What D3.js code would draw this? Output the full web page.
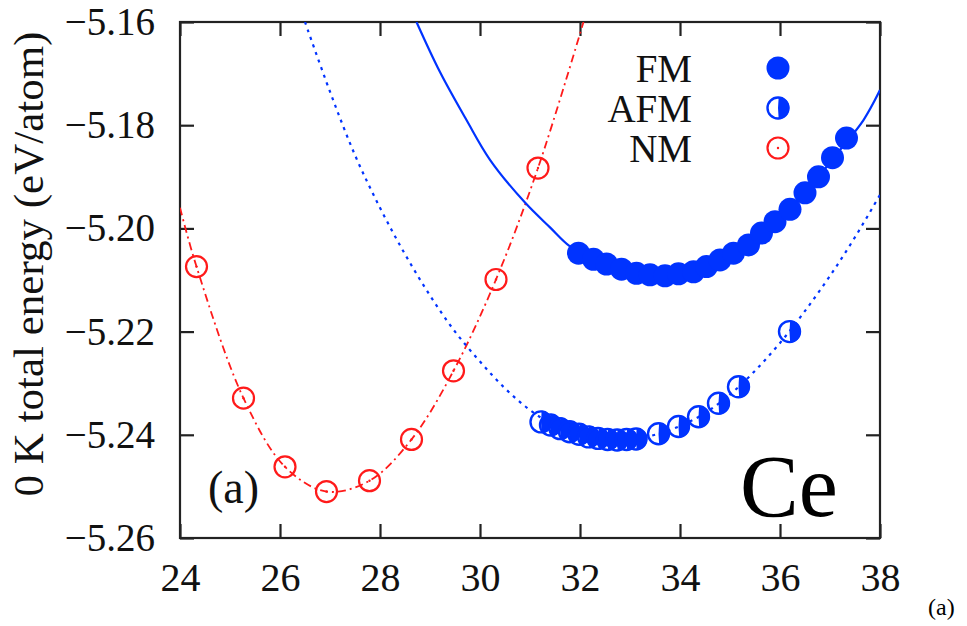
<!DOCTYPE html>
<html><head><meta charset="utf-8">
<script src="https://cdn.jsdelivr.net/npm/d3@7"></script>
<style>
body{margin:0;background:#fff}
text{font-family:"Liberation Serif",serif;}
</style>
</head><body>
<svg id="c" width="967" height="626"></svg>
<script>
// ---- data ----
const xTicks = [24, 26, 28, 30, 32, 34, 36, 38];
const yTicks = [-5.26, -5.24, -5.22, -5.20, -5.18, -5.16];
const seriesNames = ["FM", "AFM", "NM"];

const fmX = [31.97,32.27,32.53,32.83,33.13,33.40,33.70,33.97,34.27,34.53,34.80,35.07,35.37,35.63,35.90,36.20,36.50,36.77,37.05,37.33];
const fmE = [-5.2048,-5.2060,-5.2069,-5.2079,-5.2087,-5.2090,-5.2092,-5.2088,-5.2084,-5.2074,-5.2061,-5.2048,-5.2032,-5.2009,-5.1987,-5.1963,-5.1931,-5.1900,-5.1863,-5.1825];

const afmX = [31.22,31.41,31.60,31.79,31.98,32.17,32.36,32.55,32.74,32.93,33.12,33.57,33.97,34.37,34.77,35.17,36.19];
const afmE = [-5.2375,-5.2381,-5.2388,-5.2394,-5.2399,-5.2404,-5.2407,-5.2409,-5.2410,-5.2409,-5.2408,-5.2398,-5.2384,-5.2365,-5.2339,-5.2307,-5.2200];

const nmX = [24.33,25.27,26.10,26.93,27.79,28.63,29.47,30.32,31.16];
const nmE = [-5.2074,-5.2329,-5.2462,-5.2510,-5.2489,-5.2409,-5.2276,-5.2099,-5.1883];

// fitted curves
const fmFitX = [28.73,29.2,29.73,30.2,30.9,31.4,31.8,32.3,32.8,33.3,33.7,34.2,34.7,35.2,35.7,36.2,36.7,37.2,37.67,38.0];
const fmFitE = [-5.1600,-5.1697,-5.1790,-5.1867,-5.1950,-5.1998,-5.2035,-5.2062,-5.2080,-5.2090,-5.2092,-5.2085,-5.2067,-5.2040,-5.2004,-5.1960,-5.1908,-5.1848,-5.1790,-5.1732];

const afmFitX = [26.5,27.0,27.5,28.0,28.5,29.0,29.5,30.0,30.5,31.0,31.5,32.0,32.5,33.0,33.5,34.0,34.5,35.0,35.5,36.0,36.5,37.0,37.5,38.0];
const afmFitE = [-5.1600,-5.1735,-5.1858,-5.1960,-5.2050,-5.2130,-5.2200,-5.2258,-5.2310,-5.2352,-5.2383,-5.2402,-5.2411,-5.2410,-5.2400,-5.2383,-5.2358,-5.2322,-5.2276,-5.2222,-5.2160,-5.2092,-5.2017,-5.1935];

const nmFitX = [24.0,24.33,25.27,26.10,26.93,27.79,28.63,29.47,30.32,31.16,32.07];
const nmFitE = [-5.1960,-5.2074,-5.2329,-5.2462,-5.2510,-5.2489,-5.2409,-5.2276,-5.2099,-5.1883,-5.1600];

// ---- drawing ----
const BLUE = "#0033ff", RED = "#ff1a1a";
const SERIF = "Liberation Serif";
const L = 180, R = 880, T = 22, B = 538;
const svg = d3.select("#c");
const x = d3.scaleLinear().domain([24, 38]).range([L, R]);
const y = d3.scaleLinear().domain([-5.26, -5.16]).range([B, T]);
const zip = (a, b) => a.map((v, i) => [v, b[i]]);

svg.append("defs").append("clipPath").attr("id", "clip")
  .append("rect").attr("x", L).attr("y", T).attr("width", R - L).attr("height", B - T);

// axes (inward ticks on all four sides)
const fmt = d3.format(".2f");
const tick = 14;
const gx = svg.append("g").attr("transform", `translate(0,${B})`)
  .call(d3.axisBottom(x).tickValues(xTicks).tickSizeInner(-tick).tickSizeOuter(0).tickPadding(25).tickFormat(d3.format("d")));
svg.append("g").attr("transform", `translate(0,${T})`)
  .call(d3.axisTop(x).tickValues(xTicks).tickSizeInner(-tick).tickSizeOuter(0).tickFormat(""));
const gy = svg.append("g").attr("transform", `translate(${L},0)`)
  .call(d3.axisLeft(y).tickValues(yTicks).tickSizeInner(-tick).tickSizeOuter(0).tickPadding(25).tickFormat(fmt));
svg.append("g").attr("transform", `translate(${R},0)`)
  .call(d3.axisRight(y).tickValues(yTicks).tickSizeInner(-tick).tickSizeOuter(0).tickFormat(""));
svg.selectAll(".domain").remove();
svg.selectAll("g").attr("font-family", SERIF).attr("font-size", null);
svg.selectAll(".tick line").attr("stroke", "#222").attr("stroke-width", 2.2);
gx.selectAll(".tick text").style("font-family", SERIF).style("font-size", "40px").attr("fill", "#111");
gy.selectAll(".tick text").style("font-family", SERIF).style("font-size", "39px").attr("fill", "#111");

svg.append("rect").attr("x", L).attr("y", T).attr("width", R - L).attr("height", B - T)
  .attr("fill", "none").attr("stroke", "#222").attr("stroke-width", 2.2);

// y axis title
svg.append("text").attr("transform", `translate(43,264) rotate(-90)`)
  .attr("text-anchor", "middle").style("font-family", SERIF).style("font-size", "43px").attr("fill", "#111")
  .text("0 K total energy (eV/atom)");

const plot = svg.append("g").attr("clip-path", "url(#clip)");
const line = d3.line().x(d => x(d[0])).y(d => y(d[1])).curve(d3.curveCatmullRom.alpha(0.5));

plot.append("path").attr("d", line(zip(nmFitX, nmFitE))).attr("fill", "none")
  .attr("stroke", RED).attr("stroke-width", 1.8).attr("stroke-dasharray", "8,4,2,4");
plot.append("path").attr("d", line(zip(afmFitX, afmFitE))).attr("fill", "none")
  .attr("stroke", BLUE).attr("stroke-width", 2.2).attr("stroke-dasharray", "3,5");
plot.append("path").attr("d", line(zip(fmFitX, fmFitE))).attr("fill", "none")
  .attr("stroke", BLUE).attr("stroke-width", 2.2);

const r = 11.5;
function nmMark(g) {
  g.append("circle").attr("r", r - 1).attr("fill", "none").attr("stroke", RED).attr("stroke-width", 2.2);
  g.append("circle").attr("r", 1.2).attr("fill", RED);
}
function afmMark(g) {
  g.append("circle").attr("r", r - 1).attr("fill", "none").attr("stroke", BLUE).attr("stroke-width", 2.4);
  g.append("path").attr("d", d3.arc()({innerRadius: 0, outerRadius: r - 0.2, startAngle: 0.06, endAngle: Math.PI - 0.06}))
    .attr("fill", BLUE);
}
function fmMark(g) {
  g.append("circle").attr("r", r).attr("fill", BLUE);
}

plot.selectAll(".nm").data(zip(nmX, nmE)).join("g").attr("class", "nm")
  .attr("transform", d => `translate(${x(d[0])},${y(d[1])})`).each(function () { nmMark(d3.select(this)); });
plot.selectAll(".afm").data(zip(afmX, afmE)).join("g").attr("class", "afm")
  .attr("transform", d => `translate(${x(d[0])},${y(d[1])})`).each(function () { afmMark(d3.select(this)); });
plot.selectAll(".fm").data(zip(fmX, fmE)).join("g").attr("class", "fm")
  .attr("transform", d => `translate(${x(d[0])},${y(d[1])})`).each(function () { fmMark(d3.select(this)); });

// legend
const marks = [fmMark, afmMark, nmMark];
seriesNames.forEach((n, i) => {
  const by = 82 + i * 40;
  svg.append("text").attr("x", 692).attr("y", by).attr("text-anchor", "end")
    .style("font-family", SERIF).style("font-size", "39px").attr("fill", "#111").text(n);
  const g = svg.append("g").attr("transform", `translate(778,${by - 14})`);
  marks[i](g);
});

// annotations
svg.append("text").attr("x", 208).attr("y", 503).style("font-family", SERIF).style("font-size", "46px").attr("fill", "#111").text("(a)");
svg.append("text").attr("x", 740).attr("y", 516).style("font-family", SERIF).style("font-size", "88px").attr("fill", "#000").text("Ce");
svg.append("text").attr("x", 928).attr("y", 615).style("font-family", SERIF).style("font-size", "24px").attr("fill", "#000").text("(a)");
</script>
</body></html>
